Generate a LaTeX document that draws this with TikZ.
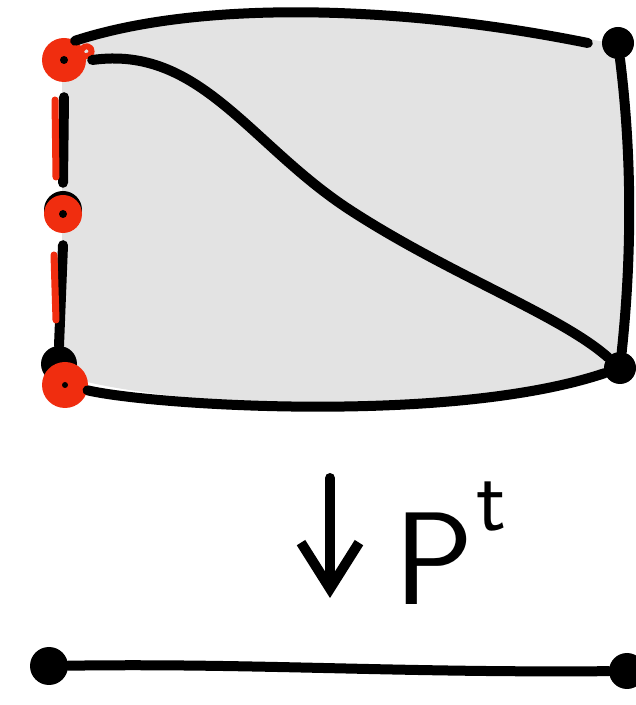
\documentclass[tikz,border=0pt]{standalone}
\usepackage{fontspec}
\usetikzlibrary{arrows.meta}
\definecolor{sketchred}{RGB}{240,45,15}
\definecolor{facegray}{RGB}{227,227,227}

\begin{document}
\begin{tikzpicture}[x=1pt,y=1pt,line cap=round,line join=round,
  vtx/.style={circle,fill=black,inner sep=0pt,minimum size=32pt},
  redvtx/.style={circle,fill=sketchred,inner sep=0pt,minimum size=44pt},
  stroke/.style={line width=10pt}]
  \useasboundingbox (0,0) rectangle (636,705);

  % shaded face
  \fill[facegray] (62,645) -- (75,665) .. controls (200,705) and (400,700) .. (605,663)
    -- (618,662) .. controls (632,550) and (632,450) .. (620,337)
    .. controls (450,280) and (150,300) .. (62,330) -- cycle;

  % vertices of the square
  \node[redvtx] (tl) at (64,645) {};
  \node[vtx] (tr) at (618,662) {};
  \node[vtx] (br) at (620,337) {};
  \node[vtx,minimum size=36pt] (bl) at (59,341) {};
  \node[vtx,minimum size=38pt] (mlb) at (63,495) {};
  \node[redvtx,minimum size=38pt] (ml) at (63,491) {};
  \node[redvtx,minimum size=46pt] (blr) at (65,320) {};
  \fill (tl) circle (4pt) (ml) circle (4pt) (blr) circle (3pt);
  \draw[sketchred,line width=6pt] (tl.10) arc (-100:150:5pt);

  % edges
  \draw[stroke] (tl.60) .. controls (200,705) and (400,700) .. ([xshift=-14pt]tr.west);
  \draw[stroke] ([xshift=6pt]tl.east) .. controls (200,660) and (250,560) .. (350,495)
    .. controls (450,430) and (560,390) .. (br);
  \draw[stroke] (tr) .. controls (632,550) and (632,450) .. (br);
  \draw[stroke] (blr) .. controls (150,300) and (450,280) .. (br);
  \draw[stroke] ([yshift=-15pt]tl.south) -- ([yshift=12pt]ml.north);
  \draw[stroke] ([yshift=-12pt]ml.south) -- (bl.north);
  \draw[sketchred,line width=7pt] ([xshift=-9pt,yshift=-40pt]tl.center) -- ([xshift=-7pt,yshift=37pt]ml.center);
  \draw[sketchred,line width=7pt] ([xshift=-9pt,yshift=-41pt]ml.center) -- ([xshift=-9pt,yshift=65pt]blr.center);

  % projection
  \coordinate (arrtop) at (330,227);
  \coordinate (arrtip) at (330,107);
  \draw[stroke,-{Straight Barb[length=46pt,width=58pt]}] (arrtop) -- (arrtip);
  \node[anchor=base west,inner sep=0pt,font=\fontsize{132}{132}\selectfont\sffamily] (proj) at (394,100)
    {P\kern3pt\raisebox{74pt}{\fontsize{88}{88}\selectfont t}};

  % base segment
  \node[vtx,minimum size=38pt] (la) at (49,39) {};
  \node[vtx,minimum size=36pt] (lb) at (627,34) {};
  \draw[stroke] (la) .. controls (250,42) and (400,32) .. (lb);
\end{tikzpicture}
\end{document}
